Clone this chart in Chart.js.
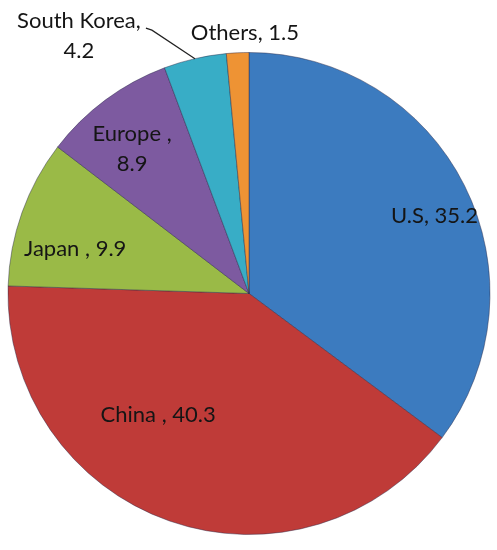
<!DOCTYPE html>
<html>
<head>
<meta charset="utf-8">
<script src="https://cdn.jsdelivr.net/npm/chart.js@4/dist/chart.umd.min.js"></script>
<style>
  html, body { margin: 0; padding: 0; background: #fff; }
  #wrap { width: 497px; height: 550px; }
</style>
</head>
<body>
<div id="wrap"><canvas id="pieChart" width="497" height="550"></canvas></div>
<script>
var countries = ['U.S', 'China', 'Japan', 'Europe', 'South Korea', 'Others'];
var shares = [35.2, 40.3, 9.9, 8.9, 4.2, 1.5];
var labelText = [['U.S, 35.2'], ['China , 40.3'], ['Japan , 9.9'], ['Europe ,', '8.9'], ['South Korea,', '4.2'], ['Others, 1.5']];
var sliceColors = ['#3c7bbf', '#bf3b38', '#9aba47', '#7d5aa0', '#38adc6', '#ee9334'];
// label placement: radius factor and angle shift (deg) from slice middle
var labelPlace = [[0.835, 3.9], [0.63, 17.5], [0.745, -5.1], [0.77, -2.5], [1.28, -20.5], [1.08, 1.8]];

var labelPlugin = {
  id: 'sliceLabels',
  afterDatasetsDraw: function(chart) {
    var ctx = chart.ctx;
    var arcs = chart.getDatasetMeta(0).data;
    ctx.save();
    ctx.font = '22px Lato, "Open Sans", sans-serif';
    ctx.fillStyle = '#151515';
    ctx.textAlign = 'center';
    ctx.textBaseline = 'middle';
    arcs.forEach(function(arc, i) {
      var p = arc.getProps(['x', 'y', 'startAngle', 'endAngle', 'outerRadius'], true);
      var mid = (p.startAngle + p.endAngle) / 2;
      var a = mid + labelPlace[i][1] * Math.PI / 180;
      var r = p.outerRadius * labelPlace[i][0];
      var cx = p.x + Math.cos(a) * r;
      var cy = p.y + Math.sin(a) * r;
      var lines = labelText[i];
      var lh = 30;
      lines.forEach(function(t, k) {
        ctx.fillText(t, cx, cy + (k - (lines.length - 1) / 2) * lh);
      });
      if (countries[i] === 'South Korea') {
        // leader line from slice edge to label
        ctx.strokeStyle = '#222';
        ctx.lineWidth = 1.2;
        ctx.beginPath();
        ctx.moveTo(p.x + Math.cos(mid) * p.outerRadius, p.y + Math.sin(mid) * p.outerRadius);
        ctx.lineTo(cx + 73, cy - 6);
        ctx.lineTo(cx + 67, cy - 8);
        ctx.stroke();
      }
    });
    ctx.restore();
  }
};

document.addEventListener('DOMContentLoaded', function(){
  var ctx = document.getElementById('pieChart').getContext('2d');
  new Chart(ctx, {
    type: 'pie',
    data: {
      labels: countries,
      datasets: [{
        data: shares,
        backgroundColor: sliceColors,
        borderColor: 'rgba(40,40,70,0.45)',
        borderWidth: 1
      }]
    },
    options: {
      responsive: false,
      animation: false,
      layout: { padding: { left: 7, right: 6, top: 52, bottom: 15 } },
      plugins: {
        legend: { display: false },
        tooltip: { enabled: false }
      }
    },
    plugins: [labelPlugin]
  });
});
</script>
</body>
</html>
